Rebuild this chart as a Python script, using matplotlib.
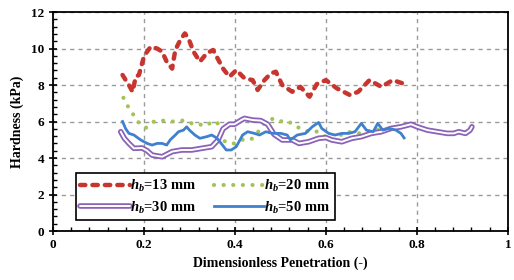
import matplotlib
matplotlib.use("Agg")
import matplotlib.pyplot as plt
from matplotlib.ticker import MultipleLocator
from matplotlib.legend_handler import HandlerTuple

plt.rcParams['font.family'] = ['Liberation Serif', 'DejaVu Serif']
plt.rcParams['font.weight'] = 'bold'
plt.rcParams['mathtext.fontset'] = 'custom'
plt.rcParams['mathtext.it'] = 'Liberation Serif:italic:bold'
plt.rcParams['mathtext.rm'] = 'Liberation Serif:bold'

# ---- data ----
x13 = [0.153, 0.160, 0.167, 0.175, 0.182, 0.189, 0.196, 0.200, 0.207, 0.215, 0.229, 0.240, 0.250,
       0.262, 0.269, 0.280, 0.290, 0.298, 0.309, 0.323, 0.338, 0.352, 0.360, 0.374, 0.388, 0.403,
       0.421, 0.439, 0.450, 0.465, 0.479, 0.490, 0.504, 0.526, 0.544, 0.564, 0.580, 0.600, 0.624,
       0.653, 0.671, 0.696, 0.722, 0.747, 0.769, 0.776]
y13 = [8.55, 8.27, 8.0, 7.63, 8.45, 8.55, 9.19, 9.55, 9.83, 10.1, 10.0, 9.83, 9.28,
       8.9, 9.92, 10.47, 10.83, 10.55, 9.83, 9.28, 9.74, 9.92, 9.55, 8.9, 8.45, 8.82,
       8.37, 8.27, 7.73, 8.27, 8.64, 8.73, 8.0, 7.63, 7.9, 7.36, 8.05, 8.27, 7.82,
       7.45, 7.63, 8.27, 7.9, 8.27, 8.09, 8.05]

x20 = [0.155, 0.162, 0.167, 0.175, 0.182, 0.190, 0.204, 0.212, 0.222, 0.243, 0.262, 0.280, 0.290,
       0.305, 0.320, 0.330, 0.345, 0.360, 0.368, 0.378, 0.390, 0.399, 0.415, 0.435, 0.450, 0.465,
       0.483, 0.497, 0.515, 0.530, 0.545, 0.562, 0.576, 0.590, 0.605, 0.617, 0.630, 0.642, 0.658,
       0.671, 0.690, 0.705, 0.714, 0.725]
y20 = [7.3, 7.0, 6.7, 6.45, 6.15, 5.9, 5.65, 5.8, 6.0, 6.05, 6.0, 6.05, 6.05,
       5.9, 5.9, 5.75, 5.9, 6.0, 5.6, 4.9, 4.8, 4.8, 5.0, 5.0, 5.4, 5.9,
       6.15, 6.0, 6.05, 5.8, 5.6, 5.45, 5.5, 5.3, 5.1, 4.95, 5.2, 5.45, 5.4,
       5.35, 5.4, 5.5, 5.55, 5.7]

x30 = [0.149, 0.157, 0.167, 0.178, 0.196, 0.207, 0.218, 0.240, 0.262, 0.283, 0.305, 0.327, 0.349,
       0.363, 0.374, 0.388, 0.399, 0.414, 0.421, 0.439, 0.457, 0.472, 0.486, 0.504, 0.526, 0.541,
       0.562, 0.584, 0.600, 0.613, 0.635, 0.657, 0.678, 0.700, 0.722, 0.743, 0.765, 0.787, 0.801,
       0.823, 0.845, 0.867, 0.881, 0.892, 0.907, 0.917, 0.921]
y30 = [5.44, 5.08, 4.8, 4.53, 4.55, 4.4, 4.16, 4.07, 4.35, 4.44, 4.44, 4.53, 4.62,
       4.99, 5.6, 5.85, 5.85, 6.08, 6.17, 6.08, 6.05, 5.85, 5.3, 4.99, 4.99, 4.8,
       4.89, 5.08, 5.12, 4.99, 4.89, 5.08, 5.17, 5.35, 5.44, 5.62, 5.71, 5.85, 5.71,
       5.53, 5.44, 5.35, 5.35, 5.44, 5.35, 5.53, 5.71]

x50 = [0.153, 0.160, 0.167, 0.178, 0.193, 0.207, 0.218, 0.229, 0.240, 0.250, 0.258, 0.269, 0.276,
       0.287, 0.294, 0.300, 0.312, 0.323, 0.338, 0.349, 0.360, 0.367, 0.381, 0.392, 0.403, 0.417,
       0.428, 0.443, 0.454, 0.468, 0.483, 0.501, 0.515, 0.522, 0.537, 0.555, 0.570, 0.584, 0.591,
       0.606, 0.620, 0.635, 0.650, 0.664, 0.678, 0.689, 0.704, 0.714, 0.725, 0.740, 0.754, 0.765,
       0.772]
y50 = [6.0, 5.6, 5.35, 5.26, 4.99, 4.8, 4.71, 4.8, 4.8, 4.71, 5.0, 5.26, 5.44,
       5.53, 5.71, 5.53, 5.26, 5.08, 5.17, 5.26, 5.1, 4.89, 4.44, 4.44, 4.62, 5.26,
       5.44, 5.35, 5.26, 5.44, 5.35, 5.35, 5.26, 4.99, 5.26, 5.35, 5.71, 5.95, 5.62,
       5.35, 5.26, 5.35, 5.35, 5.44, 5.9, 5.53, 5.44, 5.9, 5.53, 5.62, 5.53, 5.35,
       5.1]

labels = ['$h_b$=13 mm', '$h_b$=20 mm', '$h_b$=30 mm', '$h_b$=50 mm']
xticks = [0, 0.2, 0.4, 0.6, 0.8, 1]
xticklabels = ['0', '0.2', '0.4', '0.6', '0.8', '1']
yticks = [0, 2, 4, 6, 8, 10, 12]

c_red = '#C8352F'
c_green = '#A3C455'
c_purple = '#8A62B8'
c_blue = '#3F80CF'

fig = plt.figure(figsize=(5.14, 2.80), dpi=100)
ax = fig.add_axes([0.103, 0.175, 0.885, 0.782])

ax.set_axisbelow(True)
ax.grid(True, which='major', linestyle=(0, (3, 3)), color='#9a9a9a', linewidth=1.0)

l13, = ax.plot(x13, y13, color=c_red, linewidth=3.2, dashes=[1.2, 1.6],
               dash_capstyle='round', label=labels[0])
l20, = ax.plot(x20, y20, color=c_green, linewidth=3.0, dashes=[0.01, 2.3],
               dash_capstyle='round', label=labels[1])
p_out, = ax.plot(x30, y30, color=c_purple, linewidth=4.0, solid_capstyle='round')
p_in, = ax.plot(x30, y30, color='white', linewidth=1.4, solid_capstyle='round')
l50, = ax.plot(x50, y50, color=c_blue, linewidth=2.0)

ax.set_xlim(0, 1)
ax.set_ylim(0, 12)
ax.set_xticks(xticks)
ax.set_xticklabels(xticklabels)
ax.set_yticks(yticks)
ax.xaxis.set_minor_locator(MultipleLocator(0.04))
ax.yaxis.set_minor_locator(MultipleLocator(0.4))
ax.tick_params(which='major', direction='inout', length=6, width=1.2, labelsize=9.5, pad=3)
ax.tick_params(which='minor', direction='in', length=3, width=1.0)
for s in ax.spines.values():
    s.set_linewidth(1.3)

ax.set_xlabel('Dimensionless Penetration (-)', fontsize=10, fontweight='bold', labelpad=4)
ax.set_ylabel('Hardness (kPa)', fontsize=10, fontweight='bold', labelpad=5)

# column-major filling: col1 = 13, 30 ; col2 = 20, 50
handles = [l13, (p_out, p_in), l20, l50]
leg_labels = [labels[0], labels[2], labels[1], labels[3]]
leg = ax.legend(handles, leg_labels,
                handler_map={tuple: HandlerTuple(ndivide=1)},
                ncol=2, loc='lower left', bbox_to_anchor=(0.05, 0.05),
                frameon=True, fancybox=False, edgecolor='black', framealpha=1,
                fontsize=10.5, handlelength=3.4, handletextpad=0.05, columnspacing=1.2,
                borderpad=0.3, labelspacing=0.4, borderaxespad=0)
leg.get_frame().set_linewidth(1.2)

fig.savefig('out.png', dpi=100)
